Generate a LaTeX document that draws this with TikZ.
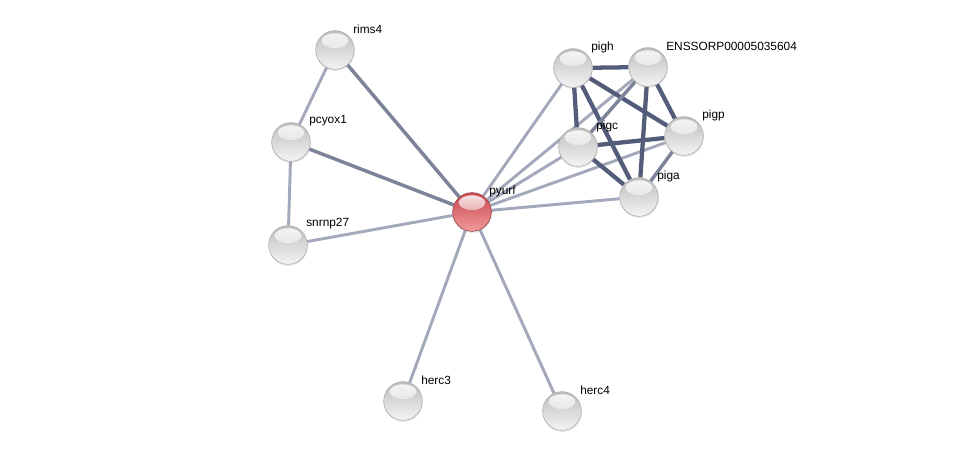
\documentclass[tikz,border=0pt]{standalone}
\usepackage{fontspec}
\setmainfont{Liberation Sans}
\usepackage{tikz}
\usetikzlibrary{calc,backgrounds,shadows,fadings}
\definecolor{edgelo}{HTML}{A3A8BA}
\definecolor{edgemd}{HTML}{7D8399}
\definecolor{edgehi}{HTML}{535C78}
\definecolor{graytop}{HTML}{BDBDBD}
\definecolor{graybot}{HTML}{F4F4F4}
\definecolor{redtop}{HTML}{C9484E}
\definecolor{redbot}{HTML}{F09A9C}
\tikzfading[name=glossfade,top color=transparent!10,bottom color=transparent!100]
\tikzset{
  ball/.style={circle,minimum size=29pt,inner sep=0pt,shading=axis,top color=graytop,
    bottom color=graybot,draw=black!35,line width=0.4pt,
    drop shadow={opacity=0.18,shadow xshift=0.3pt,shadow yshift=-1.2pt},
    path picture={\fill[white,path fading=glossfade]
      ($(path picture bounding box.center)+(0,7pt)$) ellipse (10pt and 5.5pt);}},
  redball/.style={ball,top color=redtop,bottom color=redbot,draw=redtop!70!black},
  lbl/.style={anchor=west,inner sep=0pt,font=\fontsize{8.9}{10}\selectfont},
  lo/.style={edgelo,line width=2.2pt},
  md/.style={edgemd,line width=2.6pt},
  hi/.style={edgehi,line width=3.2pt}
}
\begin{document}
\begin{tikzpicture}[x=0.75pt,y=-0.75pt]
\useasboundingbox (0,0) rectangle (976,456);
\foreach \n/\xx/\yy/\t in {rims4/335/50/rims4,pcyox1/291/142/pcyox1,snrnp27/288/245/snrnp27,
  herc3/403/401/herc3,herc4/562/411/herc4,pigh/573/68/pigh,enss/648/67/ENSSORP00005035604,
  pigc/578/147/pigc,pigp/684/136/pigp,piga/639/197/piga}{
  \node[ball] (\n) at (\xx,\yy) {};
  \node[lbl] (\n-t) at (\xx+18,\yy-21) {\t};
}
\node[redball] (pyurf) at (472,212) {};
\node[lbl] (pyurf-t) at (489,191) {pyurf};
\begin{scope}[on background layer]
\draw[lo] (rims4) -- (pcyox1);
\draw[lo] (pcyox1) -- (snrnp27);
\draw[lo] (snrnp27) -- (pyurf);
\draw[md] (rims4) -- (pyurf);
\draw[md] (pcyox1) -- (pyurf);
\draw[lo] (pyurf) -- (herc3);
\draw[lo] (pyurf) -- (herc4);
\foreach \m in {pigh,enss,pigc,pigp,piga}{\draw[lo] (pyurf) -- (\m);}
\draw[hi] (pigh) -- (enss);
\draw[hi] (pigh) -- (pigc);
\draw[hi] (pigh) -- (pigp);
\draw[hi] (pigh) -- (piga);
\draw[md] (enss) -- (pigc);
\draw[hi] (enss) -- (pigp);
\draw[hi] (enss) -- (piga);
\draw[hi] (pigc) -- (pigp);
\draw[hi] (pigc) -- (piga);
\draw[md] (pigp) -- (piga);
\end{scope}
\end{tikzpicture}
\end{document}
